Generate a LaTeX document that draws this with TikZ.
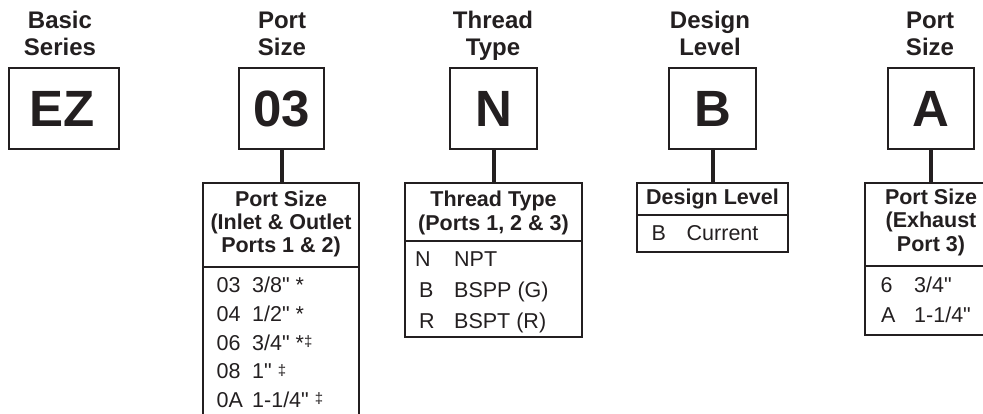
\documentclass[tikz,border=0pt]{standalone}
\usepackage{fontspec}
\setmainfont{Liberation Sans}
\newfontfamily\rawfont{Liberation Sans}
\definecolor{ink}{HTML}{231F20}
\newcommand{\smallddag}{{\fontsize{15}{15}\selectfont\raisebox{3.5pt}{‡}}}
\begin{document}
\begin{tikzpicture}[x=1pt,y=-1pt,
  title/.style={font=\fontsize{24}{27}\selectfont\bfseries, anchor=base, inner sep=0pt, text=ink},
  big/.style={font=\fontsize{51}{55}\selectfont\bfseries, anchor=base, inner sep=0pt, text=ink},
  head/.style={font=\fontsize{21.5}{23}\selectfont\bfseries, anchor=base, inner sep=0pt, text=ink},
  body/.style={font=\rawfont\fontsize{21.5}{23}\selectfont, anchor=base west, inner sep=0pt, text=ink},
  codebox/.style={draw=ink, line width=2pt, rectangle, inner sep=0pt, outer sep=0pt, minimum height=81pt},
  frame/.style={draw=ink, line width=2pt, rectangle, inner sep=0pt, outer sep=0pt},
  divider/.style={draw=ink, line width=2pt},
  stem/.style={draw=ink, line width=4pt}]
\useasboundingbox (0,0) rectangle (983,414);
\clip (0,0) rectangle (983,414);

% titles
\node[title] (tiA1) at (60,28.5) {Basic};
\node[title] (tiA2) at (60,55.5) {Series};
\node[title] (tiB1) at (282,28.5) {Port};
\node[title] (tiB2) at (282,55.5) {Size};
\node[title] (tiC1) at (493,28.5) {Thread};
\node[title] (tiC2) at (493,55.5) {Type};
\node[title] (tiD1) at (710,28.5) {Design};
\node[title] (tiD2) at (710,55.5) {Level};
\node[title] (tiE1) at (930,28.5) {Port};
\node[title] (tiE2) at (930,55.5) {Size};

% code boxes
\node[codebox, minimum width=110pt] (bez) at (64,108.5) {};
\node[codebox, minimum width=85pt] (b03) at (281.5,108.5) {};
\node[codebox, minimum width=87pt] (bN) at (493.5,108.5) {};
\node[codebox, minimum width=87pt] (bB) at (712.5,108.5) {};
\node[codebox, minimum width=86pt] (bA) at (931,108.5) {};
\node[big] (lez) at (62,127) {EZ};
\node[big] (l03) at (281.5,127) {03};
\node[big] (lN) at (493.5,127) {N};
\node[big] (lB) at (712.5,127) {B};
\node[big] (lA) at (931,127) {A};

% tables
\node[frame, minimum width=156pt, minimum height=257pt] (tps) at (281,311.5) {};
\node[frame, minimum width=177pt, minimum height=154pt] (tth) at (493.5,260) {};
\node[frame, minimum width=151pt, minimum height=69pt] (tdl) at (712.5,217.5) {};
\node[frame, minimum width=132pt, minimum height=152pt] (tex) at (931,259) {};

\draw[divider] ([yshift=-84pt]tps.north west) -- ([yshift=-84pt]tps.north east);
\draw[divider] ([yshift=-58pt]tth.north west) -- ([yshift=-58pt]tth.north east);
\draw[divider] ([yshift=-32pt]tdl.north west) -- ([yshift=-32pt]tdl.north east);
\draw[divider] ([yshift=-83pt]tex.north west) -- ([yshift=-83pt]tex.north east);

% stems
\draw[stem] (b03.south) -- (b03.south |- tps.north);
\draw[stem] (bN.south) -- (bN.south |- tth.north);
\draw[stem] (bB.south) -- (bB.south |- tdl.north);
\draw[stem] (bA.south) -- (bA.south |- tex.north);

% table headers
\node[head] (hps1) at (281,207) {Port Size};
\node[head] (hps2) at (281,230) {(Inlet \& Outlet};
\node[head] (hps3) at (281,253) {Ports 1 \& 2)};
\node[head] (hth1) at (493.5,207) {Thread Type};
\node[head] (hth2) at (493.5,230.5) {(Ports 1, 2 \& 3)};
\node[head] (hdl1) at (712.5,205) {Design Level};
\node[head] (hex1) at (931,205) {Port Size};
\node[head] (hex2) at (931,228) {(Exhaust};
\node[head] (hex3) at (931,251.5) {Port 3)};

% port size rows
\node[body] (r1a) at (216.5,293) {03};
\node[body] (r1b) at (252,293) {3/8" *};
\node[body] (r2a) at (216.5,321.5) {04};
\node[body] (r2b) at (252,321.5) {1/2" *};
\node[body] (r3a) at (216.5,350) {06};
\node[body] (r3b) at (252,350) {3/4" *\smallddag};
\node[body] (r4a) at (216.5,378.5) {08};
\node[body] (r4b) at (252,378.5) {1" \smallddag};
\node[body] (r5a) at (216.5,407) {0A};
\node[body] (r5b) at (252,407) {1-1/4" \smallddag};

% thread rows
\node[body] (s1a) at (415,267) {N};
\node[body] (s1b) at (454,267) {NPT};
\node[body] (s2a) at (419,298) {B};
\node[body] (s2b) at (454,298) {BSPP (G)};
\node[body] (s3a) at (419,328.5) {R};
\node[body] (s3b) at (454,328.5) {BSPT (R)};

% design level row
\node[body] (d1a) at (651.5,240.5) {B};
\node[body] (d1b) at (686.5,240.5) {Current};

% exhaust rows
\node[body] (e1a) at (880.5,292.5) {6};
\node[body] (e1b) at (914,292.5) {3/4"};
\node[body] (e2a) at (881,322.5) {A};
\node[body] (e2b) at (914,322.5) {1-1/4"};
\end{tikzpicture}
\end{document}
